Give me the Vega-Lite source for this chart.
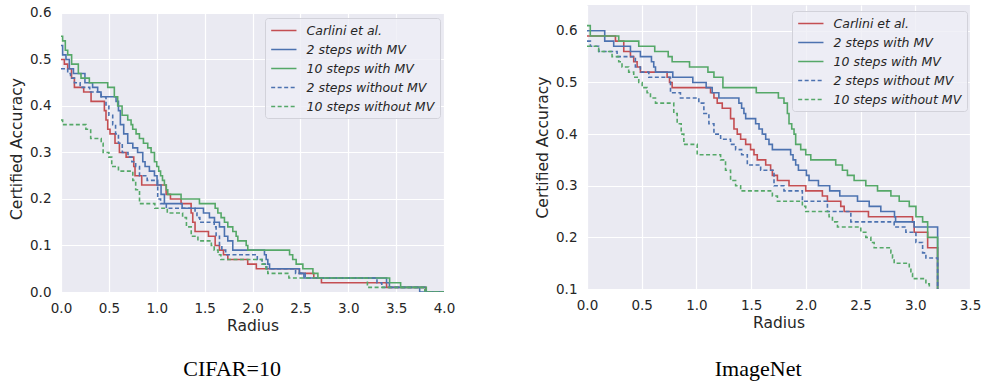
{
  "$schema": "https://vega.github.io/schema/vega-lite/v6.json",
  "padding": {"left": 9, "top": 5, "right": 5, "bottom": 5},
  "background": "white",
  "spacing": 80,
  "resolve": {"scale": {"color": "independent", "strokeDash": "independent", "x": "independent", "y": "independent"}, "legend": {"color": "independent", "strokeDash": "independent"}},
  "config": {
    "view": {"fill": "#EAEAF2", "stroke": null},
    "font": "DejaVu Sans",
    "axis": {"domain": false, "ticks": false, "tickSize": 0, "grid": true, "gridColor": "white", "gridWidth": 1.2, "labelFont": "DejaVu Sans", "labelFontSize": 13.5, "labelColor": "#262626", "titleFont": "DejaVu Sans", "titleFontSize": 15.5, "titleFontWeight": "normal", "titleColor": "#262626", "labelFlush": false, "labelOverlap": false},
    "axisX": {"labelPadding": 9, "titlePadding": 4},
    "axisY": {"labelPadding": 10, "titlePadding": 5},
    "title": {"font": "Liberation Serif", "fontSize": 22, "fontWeight": "normal", "color": "black", "orient": "bottom", "anchor": "middle", "frame": "bounds"},
    "legend": {"title": null, "symbolType": "M-1,0H3", "symbolSize": 160, "symbolStrokeWidth": 1.6, "symbolFillColor": "transparent", "labelFontSize": 12.5, "labelFontStyle": "italic", "labelColor": "#262626", "labelFont": "DejaVu Sans", "rowPadding": 5, "padding": 5, "labelOffset": 21.5, "fillColor": "rgba(238,238,245,0.8)", "strokeColor": "#D2D2DA", "cornerRadius": 3}
  },
  "datasets": {
    "cifar": [
      {"s":"Carlini et al.","r":0,"a":0.50},{"s":"Carlini et al.","r":0.035,"a":0.49},{"s":"Carlini et al.","r":0.07,"a":0.48},{"s":"Carlini et al.","r":0.11,"a":0.46},{"s":"Carlini et al.","r":0.14,"a":0.44},{"s":"Carlini et al.","r":0.237,"a":0.43},{"s":"Carlini et al.","r":0.314,"a":0.41},{"s":"Carlini et al.","r":0.453,"a":0.39},{"s":"Carlini et al.","r":0.47,"a":0.37},{"s":"Carlini et al.","r":0.488,"a":0.35},{"s":"Carlini et al.","r":0.512,"a":0.34},{"s":"Carlini et al.","r":0.564,"a":0.32},{"s":"Carlini et al.","r":0.61,"a":0.30},{"s":"Carlini et al.","r":0.68,"a":0.29},{"s":"Carlini et al.","r":0.76,"a":0.27},{"s":"Carlini et al.","r":0.773,"a":0.25},{"s":"Carlini et al.","r":0.843,"a":0.23},{"s":"Carlini et al.","r":1.098,"a":0.21},{"s":"Carlini et al.","r":1.143,"a":0.20},{"s":"Carlini et al.","r":1.254,"a":0.19},{"s":"Carlini et al.","r":1.359,"a":0.17},{"s":"Carlini et al.","r":1.376,"a":0.15},{"s":"Carlini et al.","r":1.40,"a":0.13},{"s":"Carlini et al.","r":1.54,"a":0.12},{"s":"Carlini et al.","r":1.61,"a":0.10},{"s":"Carlini et al.","r":1.655,"a":0.09},{"s":"Carlini et al.","r":1.697,"a":0.08},{"s":"Carlini et al.","r":1.742,"a":0.07},{"s":"Carlini et al.","r":1.95,"a":0.06},{"s":"Carlini et al.","r":2.04,"a":0.05},{"s":"Carlini et al.","r":2.49,"a":0.04},{"s":"Carlini et al.","r":2.64,"a":0.03},{"s":"Carlini et al.","r":2.72,"a":0.02},{"s":"Carlini et al.","r":3.40,"a":0.01},{"s":"Carlini et al.","r":3.81,"a":0.0},{"s":"Carlini et al.","r":4.0,"a":0.0},
      {"s":"2 steps with MV","r":0,"a":0.53},{"s":"2 steps with MV","r":0.017,"a":0.51},{"s":"2 steps with MV","r":0.052,"a":0.50},{"s":"2 steps with MV","r":0.087,"a":0.48},{"s":"2 steps with MV","r":0.13,"a":0.47},{"s":"2 steps with MV","r":0.25,"a":0.45},{"s":"2 steps with MV","r":0.33,"a":0.44},{"s":"2 steps with MV","r":0.383,"a":0.43},{"s":"2 steps with MV","r":0.418,"a":0.42},{"s":"2 steps with MV","r":0.575,"a":0.41},{"s":"2 steps with MV","r":0.60,"a":0.39},{"s":"2 steps with MV","r":0.62,"a":0.36},{"s":"2 steps with MV","r":0.655,"a":0.34},{"s":"2 steps with MV","r":0.697,"a":0.32},{"s":"2 steps with MV","r":0.75,"a":0.31},{"s":"2 steps with MV","r":0.80,"a":0.30},{"s":"2 steps with MV","r":0.854,"a":0.28},{"s":"2 steps with MV","r":0.878,"a":0.27},{"s":"2 steps with MV","r":0.923,"a":0.26},{"s":"2 steps with MV","r":0.976,"a":0.25},{"s":"2 steps with MV","r":1.003,"a":0.23},{"s":"2 steps with MV","r":1.045,"a":0.21},{"s":"2 steps with MV","r":1.08,"a":0.19},{"s":"2 steps with MV","r":1.265,"a":0.18},{"s":"2 steps with MV","r":1.488,"a":0.17},{"s":"2 steps with MV","r":1.55,"a":0.16},{"s":"2 steps with MV","r":1.603,"a":0.15},{"s":"2 steps with MV","r":1.655,"a":0.14},{"s":"2 steps with MV","r":1.707,"a":0.12},{"s":"2 steps with MV","r":1.742,"a":0.11},{"s":"2 steps with MV","r":1.794,"a":0.09},{"s":"2 steps with MV","r":2.125,"a":0.08},{"s":"2 steps with MV","r":2.143,"a":0.07},{"s":"2 steps with MV","r":2.16,"a":0.06},{"s":"2 steps with MV","r":2.178,"a":0.05},{"s":"2 steps with MV","r":2.49,"a":0.04},{"s":"2 steps with MV","r":2.537,"a":0.03},{"s":"2 steps with MV","r":3.40,"a":0.02},{"s":"2 steps with MV","r":3.43,"a":0.01},{"s":"2 steps with MV","r":3.746,"a":0.0},{"s":"2 steps with MV","r":4.0,"a":0.0},
      {"s":"10 steps with MV","r":0,"a":0.55},{"s":"10 steps with MV","r":0.017,"a":0.54},{"s":"10 steps with MV","r":0.045,"a":0.52},{"s":"10 steps with MV","r":0.07,"a":0.51},{"s":"10 steps with MV","r":0.111,"a":0.49},{"s":"10 steps with MV","r":0.181,"a":0.47},{"s":"10 steps with MV","r":0.209,"a":0.46},{"s":"10 steps with MV","r":0.296,"a":0.45},{"s":"10 steps with MV","r":0.488,"a":0.44},{"s":"10 steps with MV","r":0.557,"a":0.42},{"s":"10 steps with MV","r":0.592,"a":0.40},{"s":"10 steps with MV","r":0.638,"a":0.38},{"s":"10 steps with MV","r":0.697,"a":0.37},{"s":"10 steps with MV","r":0.732,"a":0.36},{"s":"10 steps with MV","r":0.749,"a":0.35},{"s":"10 steps with MV","r":0.784,"a":0.34},{"s":"10 steps with MV","r":0.819,"a":0.33},{"s":"10 steps with MV","r":0.861,"a":0.32},{"s":"10 steps with MV","r":0.906,"a":0.31},{"s":"10 steps with MV","r":0.941,"a":0.30},{"s":"10 steps with MV","r":0.976,"a":0.28},{"s":"10 steps with MV","r":1.0,"a":0.27},{"s":"10 steps with MV","r":1.02,"a":0.26},{"s":"10 steps with MV","r":1.04,"a":0.25},{"s":"10 steps with MV","r":1.06,"a":0.24},{"s":"10 steps with MV","r":1.08,"a":0.23},{"s":"10 steps with MV","r":1.1,"a":0.22},{"s":"10 steps with MV","r":1.115,"a":0.21},{"s":"10 steps with MV","r":1.254,"a":0.20},{"s":"10 steps with MV","r":1.446,"a":0.19},{"s":"10 steps with MV","r":1.61,"a":0.18},{"s":"10 steps with MV","r":1.638,"a":0.17},{"s":"10 steps with MV","r":1.672,"a":0.16},{"s":"10 steps with MV","r":1.707,"a":0.15},{"s":"10 steps with MV","r":1.742,"a":0.14},{"s":"10 steps with MV","r":1.794,"a":0.13},{"s":"10 steps with MV","r":1.829,"a":0.12},{"s":"10 steps with MV","r":1.847,"a":0.11},{"s":"10 steps with MV","r":1.934,"a":0.10},{"s":"10 steps with MV","r":1.951,"a":0.09},{"s":"10 steps with MV","r":2.387,"a":0.08},{"s":"10 steps with MV","r":2.42,"a":0.07},{"s":"10 steps with MV","r":2.456,"a":0.06},{"s":"10 steps with MV","r":2.526,"a":0.05},{"s":"10 steps with MV","r":2.631,"a":0.04},{"s":"10 steps with MV","r":2.683,"a":0.03},{"s":"10 steps with MV","r":3.432,"a":0.02},{"s":"10 steps with MV","r":3.547,"a":0.01},{"s":"10 steps with MV","r":3.815,"a":0.0},{"s":"10 steps with MV","r":4.0,"a":0.0},
      {"s":"2 steps without MV","r":0,"a":0.48},{"s":"2 steps without MV","r":0.07,"a":0.47},{"s":"2 steps without MV","r":0.1,"a":0.46},{"s":"2 steps without MV","r":0.14,"a":0.45},{"s":"2 steps without MV","r":0.2,"a":0.44},{"s":"2 steps without MV","r":0.3,"a":0.43},{"s":"2 steps without MV","r":0.42,"a":0.42},{"s":"2 steps without MV","r":0.47,"a":0.40},{"s":"2 steps without MV","r":0.5,"a":0.38},{"s":"2 steps without MV","r":0.54,"a":0.36},{"s":"2 steps without MV","r":0.57,"a":0.34},{"s":"2 steps without MV","r":0.6,"a":0.32},{"s":"2 steps without MV","r":0.64,"a":0.30},{"s":"2 steps without MV","r":0.7,"a":0.29},{"s":"2 steps without MV","r":0.74,"a":0.28},{"s":"2 steps without MV","r":0.78,"a":0.27},{"s":"2 steps without MV","r":0.82,"a":0.25},{"s":"2 steps without MV","r":0.9,"a":0.24},{"s":"2 steps without MV","r":1.01,"a":0.20},{"s":"2 steps without MV","r":1.04,"a":0.19},{"s":"2 steps without MV","r":1.1,"a":0.18},{"s":"2 steps without MV","r":1.4,"a":0.17},{"s":"2 steps without MV","r":1.42,"a":0.16},{"s":"2 steps without MV","r":1.45,"a":0.15},{"s":"2 steps without MV","r":1.6,"a":0.14},{"s":"2 steps without MV","r":1.62,"a":0.12},{"s":"2 steps without MV","r":1.655,"a":0.10},{"s":"2 steps without MV","r":1.68,"a":0.09},{"s":"2 steps without MV","r":1.72,"a":0.08},{"s":"2 steps without MV","r":2.05,"a":0.07},{"s":"2 steps without MV","r":2.1,"a":0.06},{"s":"2 steps without MV","r":2.15,"a":0.05},{"s":"2 steps without MV","r":2.45,"a":0.04},{"s":"2 steps without MV","r":2.55,"a":0.03},{"s":"2 steps without MV","r":3.3,"a":0.02},{"s":"2 steps without MV","r":3.35,"a":0.01},{"s":"2 steps without MV","r":3.8,"a":0.0},{"s":"2 steps without MV","r":4.0,"a":0.0},
      {"s":"10 steps without MV","r":0,"a":0.37},{"s":"10 steps without MV","r":0.017,"a":0.36},{"s":"10 steps without MV","r":0.26,"a":0.35},{"s":"10 steps without MV","r":0.31,"a":0.33},{"s":"10 steps without MV","r":0.42,"a":0.32},{"s":"10 steps without MV","r":0.44,"a":0.30},{"s":"10 steps without MV","r":0.5,"a":0.29},{"s":"10 steps without MV","r":0.53,"a":0.27},{"s":"10 steps without MV","r":0.6,"a":0.26},{"s":"10 steps without MV","r":0.75,"a":0.24},{"s":"10 steps without MV","r":0.78,"a":0.22},{"s":"10 steps without MV","r":0.82,"a":0.19},{"s":"10 steps without MV","r":0.98,"a":0.18},{"s":"10 steps without MV","r":1.11,"a":0.17},{"s":"10 steps without MV","r":1.27,"a":0.16},{"s":"10 steps without MV","r":1.31,"a":0.14},{"s":"10 steps without MV","r":1.36,"a":0.12},{"s":"10 steps without MV","r":1.43,"a":0.11},{"s":"10 steps without MV","r":1.57,"a":0.10},{"s":"10 steps without MV","r":1.6,"a":0.09},{"s":"10 steps without MV","r":1.64,"a":0.08},{"s":"10 steps without MV","r":1.67,"a":0.07},{"s":"10 steps without MV","r":2.1,"a":0.06},{"s":"10 steps without MV","r":2.14,"a":0.05},{"s":"10 steps without MV","r":2.16,"a":0.04},{"s":"10 steps without MV","r":2.38,"a":0.03},{"s":"10 steps without MV","r":3.2,"a":0.01},{"s":"10 steps without MV","r":3.8,"a":0.0},{"s":"10 steps without MV","r":4.0,"a":0.0}
    ],
    "imagenet": [
      {"s":"Carlini et al.","r":0,"a":0.59},{"s":"Carlini et al.","r":0.26,"a":0.58},{"s":"Carlini et al.","r":0.336,"a":0.56},{"s":"Carlini et al.","r":0.397,"a":0.55},{"s":"Carlini et al.","r":0.427,"a":0.54},{"s":"Carlini et al.","r":0.458,"a":0.53},{"s":"Carlini et al.","r":0.488,"a":0.52},{"s":"Carlini et al.","r":0.732,"a":0.51},{"s":"Carlini et al.","r":0.754,"a":0.50},{"s":"Carlini et al.","r":0.778,"a":0.49},{"s":"Carlini et al.","r":1.129,"a":0.48},{"s":"Carlini et al.","r":1.16,"a":0.47},{"s":"Carlini et al.","r":1.19,"a":0.46},{"s":"Carlini et al.","r":1.236,"a":0.45},{"s":"Carlini et al.","r":1.312,"a":0.43},{"s":"Carlini et al.","r":1.343,"a":0.41},{"s":"Carlini et al.","r":1.373,"a":0.40},{"s":"Carlini et al.","r":1.404,"a":0.39},{"s":"Carlini et al.","r":1.45,"a":0.38},{"s":"Carlini et al.","r":1.495,"a":0.37},{"s":"Carlini et al.","r":1.526,"a":0.36},{"s":"Carlini et al.","r":1.556,"a":0.35},{"s":"Carlini et al.","r":1.633,"a":0.34},{"s":"Carlini et al.","r":1.678,"a":0.33},{"s":"Carlini et al.","r":1.694,"a":0.32},{"s":"Carlini et al.","r":1.74,"a":0.31},{"s":"Carlini et al.","r":1.846,"a":0.30},{"s":"Carlini et al.","r":1.999,"a":0.29},{"s":"Carlini et al.","r":2.151,"a":0.28},{"s":"Carlini et al.","r":2.197,"a":0.27},{"s":"Carlini et al.","r":2.319,"a":0.26},{"s":"Carlini et al.","r":2.35,"a":0.25},{"s":"Carlini et al.","r":2.572,"a":0.24},{"s":"Carlini et al.","r":2.975,"a":0.23},{"s":"Carlini et al.","r":2.99,"a":0.21},{"s":"Carlini et al.","r":3.113,"a":0.18},{"s":"Carlini et al.","r":3.204,"a":0.05},
      {"s":"2 steps with MV","r":0,"a":0.60},{"s":"2 steps with MV","r":0.162,"a":0.58},{"s":"2 steps with MV","r":0.244,"a":0.57},{"s":"2 steps with MV","r":0.397,"a":0.56},{"s":"2 steps with MV","r":0.488,"a":0.55},{"s":"2 steps with MV","r":0.589,"a":0.54},{"s":"2 steps with MV","r":0.61,"a":0.53},{"s":"2 steps with MV","r":0.626,"a":0.52},{"s":"2 steps with MV","r":0.784,"a":0.51},{"s":"2 steps with MV","r":0.967,"a":0.50},{"s":"2 steps with MV","r":1.089,"a":0.49},{"s":"2 steps with MV","r":1.144,"a":0.48},{"s":"2 steps with MV","r":1.205,"a":0.47},{"s":"2 steps with MV","r":1.388,"a":0.46},{"s":"2 steps with MV","r":1.413,"a":0.45},{"s":"2 steps with MV","r":1.434,"a":0.44},{"s":"2 steps with MV","r":1.45,"a":0.43},{"s":"2 steps with MV","r":1.541,"a":0.42},{"s":"2 steps with MV","r":1.572,"a":0.41},{"s":"2 steps with MV","r":1.602,"a":0.40},{"s":"2 steps with MV","r":1.633,"a":0.39},{"s":"2 steps with MV","r":1.663,"a":0.38},{"s":"2 steps with MV","r":1.694,"a":0.37},{"s":"2 steps with MV","r":1.861,"a":0.36},{"s":"2 steps with MV","r":1.883,"a":0.35},{"s":"2 steps with MV","r":1.907,"a":0.34},{"s":"2 steps with MV","r":1.932,"a":0.33},{"s":"2 steps with MV","r":2.005,"a":0.32},{"s":"2 steps with MV","r":2.029,"a":0.31},{"s":"2 steps with MV","r":2.115,"a":0.30},{"s":"2 steps with MV","r":2.218,"a":0.29},{"s":"2 steps with MV","r":2.31,"a":0.28},{"s":"2 steps with MV","r":2.472,"a":0.27},{"s":"2 steps with MV","r":2.579,"a":0.26},{"s":"2 steps with MV","r":2.685,"a":0.25},{"s":"2 steps with MV","r":2.81,"a":0.24},{"s":"2 steps with MV","r":2.82,"a":0.23},{"s":"2 steps with MV","r":2.99,"a":0.22},{"s":"2 steps with MV","r":3.204,"a":0.05},
      {"s":"10 steps with MV","r":0,"a":0.61},{"s":"10 steps with MV","r":0.03,"a":0.59},{"s":"10 steps with MV","r":0.29,"a":0.58},{"s":"10 steps with MV","r":0.473,"a":0.57},{"s":"10 steps with MV","r":0.619,"a":0.56},{"s":"10 steps with MV","r":0.742,"a":0.55},{"s":"10 steps with MV","r":0.778,"a":0.54},{"s":"10 steps with MV","r":0.937,"a":0.53},{"s":"10 steps with MV","r":1.105,"a":0.52},{"s":"10 steps with MV","r":1.16,"a":0.51},{"s":"10 steps with MV","r":1.242,"a":0.49},{"s":"10 steps with MV","r":1.547,"a":0.48},{"s":"10 steps with MV","r":1.749,"a":0.47},{"s":"10 steps with MV","r":1.80,"a":0.46},{"s":"10 steps with MV","r":1.831,"a":0.44},{"s":"10 steps with MV","r":1.846,"a":0.42},{"s":"10 steps with MV","r":1.871,"a":0.41},{"s":"10 steps with MV","r":1.892,"a":0.40},{"s":"10 steps with MV","r":1.907,"a":0.38},{"s":"10 steps with MV","r":1.953,"a":0.37},{"s":"10 steps with MV","r":1.999,"a":0.36},{"s":"10 steps with MV","r":2.045,"a":0.35},{"s":"10 steps with MV","r":2.273,"a":0.34},{"s":"10 steps with MV","r":2.334,"a":0.33},{"s":"10 steps with MV","r":2.38,"a":0.32},{"s":"10 steps with MV","r":2.441,"a":0.31},{"s":"10 steps with MV","r":2.548,"a":0.30},{"s":"10 steps with MV","r":2.655,"a":0.29},{"s":"10 steps with MV","r":2.777,"a":0.28},{"s":"10 steps with MV","r":2.853,"a":0.27},{"s":"10 steps with MV","r":2.945,"a":0.26},{"s":"10 steps with MV","r":3.006,"a":0.24},{"s":"10 steps with MV","r":3.067,"a":0.23},{"s":"10 steps with MV","r":3.113,"a":0.20},{"s":"10 steps with MV","r":3.204,"a":0.05},
      {"s":"2 steps without MV","r":0,"a":0.58},{"s":"2 steps without MV","r":0.031,"a":0.57},{"s":"2 steps without MV","r":0.107,"a":0.56},{"s":"2 steps without MV","r":0.275,"a":0.55},{"s":"2 steps without MV","r":0.442,"a":0.53},{"s":"2 steps without MV","r":0.488,"a":0.52},{"s":"2 steps without MV","r":0.565,"a":0.51},{"s":"2 steps without MV","r":0.763,"a":0.48},{"s":"2 steps without MV","r":0.854,"a":0.47},{"s":"2 steps without MV","r":1.022,"a":0.46},{"s":"2 steps without MV","r":1.068,"a":0.44},{"s":"2 steps without MV","r":1.114,"a":0.42},{"s":"2 steps without MV","r":1.16,"a":0.40},{"s":"2 steps without MV","r":1.221,"a":0.39},{"s":"2 steps without MV","r":1.312,"a":0.38},{"s":"2 steps without MV","r":1.358,"a":0.37},{"s":"2 steps without MV","r":1.413,"a":0.36},{"s":"2 steps without MV","r":1.465,"a":0.34},{"s":"2 steps without MV","r":1.587,"a":0.33},{"s":"2 steps without MV","r":1.709,"a":0.30},{"s":"2 steps without MV","r":1.80,"a":0.29},{"s":"2 steps without MV","r":1.968,"a":0.27},{"s":"2 steps without MV","r":2.197,"a":0.25},{"s":"2 steps without MV","r":2.411,"a":0.23},{"s":"2 steps without MV","r":2.807,"a":0.22},{"s":"2 steps without MV","r":2.914,"a":0.21},{"s":"2 steps without MV","r":3.006,"a":0.19},{"s":"2 steps without MV","r":3.067,"a":0.17},{"s":"2 steps without MV","r":3.097,"a":0.16},{"s":"2 steps without MV","r":3.204,"a":0.05},
      {"s":"10 steps without MV","r":0,"a":0.57},{"s":"10 steps without MV","r":0.107,"a":0.56},{"s":"10 steps without MV","r":0.229,"a":0.55},{"s":"10 steps without MV","r":0.29,"a":0.54},{"s":"10 steps without MV","r":0.32,"a":0.53},{"s":"10 steps without MV","r":0.381,"a":0.52},{"s":"10 steps without MV","r":0.427,"a":0.51},{"s":"10 steps without MV","r":0.473,"a":0.50},{"s":"10 steps without MV","r":0.504,"a":0.49},{"s":"10 steps without MV","r":0.549,"a":0.48},{"s":"10 steps without MV","r":0.58,"a":0.47},{"s":"10 steps without MV","r":0.626,"a":0.46},{"s":"10 steps without MV","r":0.793,"a":0.44},{"s":"10 steps without MV","r":0.824,"a":0.42},{"s":"10 steps without MV","r":0.861,"a":0.40},{"s":"10 steps without MV","r":0.885,"a":0.38},{"s":"10 steps without MV","r":1.007,"a":0.36},{"s":"10 steps without MV","r":1.221,"a":0.35},{"s":"10 steps without MV","r":1.266,"a":0.33},{"s":"10 steps without MV","r":1.312,"a":0.31},{"s":"10 steps without MV","r":1.358,"a":0.30},{"s":"10 steps without MV","r":1.404,"a":0.29},{"s":"10 steps without MV","r":1.694,"a":0.28},{"s":"10 steps without MV","r":1.74,"a":0.27},{"s":"10 steps without MV","r":1.968,"a":0.26},{"s":"10 steps without MV","r":1.999,"a":0.25},{"s":"10 steps without MV","r":2.212,"a":0.24},{"s":"10 steps without MV","r":2.243,"a":0.23},{"s":"10 steps without MV","r":2.289,"a":0.22},{"s":"10 steps without MV","r":2.502,"a":0.21},{"s":"10 steps without MV","r":2.548,"a":0.20},{"s":"10 steps without MV","r":2.594,"a":0.19},{"s":"10 steps without MV","r":2.624,"a":0.18},{"s":"10 steps without MV","r":2.777,"a":0.17},{"s":"10 steps without MV","r":2.792,"a":0.16},{"s":"10 steps without MV","r":2.807,"a":0.15},{"s":"10 steps without MV","r":2.945,"a":0.14},{"s":"10 steps without MV","r":2.96,"a":0.13},{"s":"10 steps without MV","r":2.975,"a":0.12},{"s":"10 steps without MV","r":3.097,"a":0.11},{"s":"10 steps without MV","r":3.128,"a":0.09}
    ]
  },
  "hconcat": [
    {
      "width": 383, "height": 287,
      "view": {"fill": {"gradient": "linear", "x1": 0, "y1": 0, "x2": 0, "y2": 1, "stops": [{"offset": 0, "color": "white"}, {"offset": 0.0279, "color": "white"}, {"offset": 0.0279, "color": "#EAEAF2"}, {"offset": 1, "color": "#EAEAF2"}]}, "stroke": null},
      "title": {"text": "CIFAR=10", "offset": 25},
      "data": {"name": "cifar"},
      "mark": {"type": "line", "interpolate": "step-after", "strokeWidth": 1.6, "clip": true},
      "encoding": {
        "x": {"field": "r", "type": "quantitative", "scale": {"domain": [0, 4], "nice": false}, "axis": {"values": [0, 0.5, 1, 1.5, 2, 2.5, 3, 3.5, 4], "format": ".1f", "title": "Radius"}},
        "y": {"field": "a", "type": "quantitative", "scale": {"domain": [0, 0.6172], "nice": false, "zero": false}, "axis": {"values": [0, 0.1, 0.2, 0.3, 0.4, 0.5, 0.6], "format": ".1f", "title": "Certified Accuracy"}},
        "color": {"field": "s", "type": "nominal", "scale": {"domain": ["Carlini et al.", "2 steps with MV", "10 steps with MV", "2 steps without MV", "10 steps without MV"], "range": ["#C44E52", "#4C72B0", "#55A868", "#4C72B0", "#55A868"]}, "legend": {"orient": "none", "legendX": 204, "legendY": 13, "title": null}},
        "strokeDash": {"field": "s", "type": "nominal", "scale": {"domain": ["Carlini et al.", "2 steps with MV", "10 steps with MV", "2 steps without MV", "10 steps without MV"], "range": [[1, 0], [1, 0], [1, 0], [4, 2.5], [4, 2.5]]}, "legend": {"orient": "none", "legendX": 204, "legendY": 13, "title": null}}
      }
    },
    {
      "width": 383, "height": 284,
      "title": {"text": "ImageNet", "offset": 28},
      "data": {"name": "imagenet"},
      "mark": {"type": "line", "interpolate": "step-after", "strokeWidth": 1.6, "clip": true},
      "encoding": {
        "x": {"field": "r", "type": "quantitative", "scale": {"domain": [0, 3.5], "nice": false}, "axis": {"values": [0, 0.5, 1, 1.5, 2, 2.5, 3, 3.5], "format": ".1f", "title": "Radius"}},
        "y": {"field": "a", "type": "quantitative", "scale": {"domain": [0.1, 0.65], "nice": false, "zero": false}, "axis": {"values": [0.1, 0.2, 0.3, 0.4, 0.5, 0.6], "format": ".1f", "title": "Certified Accuracy"}},
        "color": {"field": "s", "type": "nominal", "scale": {"domain": ["Carlini et al.", "2 steps with MV", "10 steps with MV", "2 steps without MV", "10 steps without MV"], "range": ["#C44E52", "#4C72B0", "#55A868", "#4C72B0", "#55A868"]}, "legend": {"orient": "none", "legendX": 205, "legendY": 6, "title": null}},
        "strokeDash": {"field": "s", "type": "nominal", "scale": {"domain": ["Carlini et al.", "2 steps with MV", "10 steps with MV", "2 steps without MV", "10 steps without MV"], "range": [[1, 0], [1, 0], [1, 0], [4, 2.5], [4, 2.5]]}, "legend": {"orient": "none", "legendX": 205, "legendY": 6, "title": null}}
      }
    }
  ]
}
